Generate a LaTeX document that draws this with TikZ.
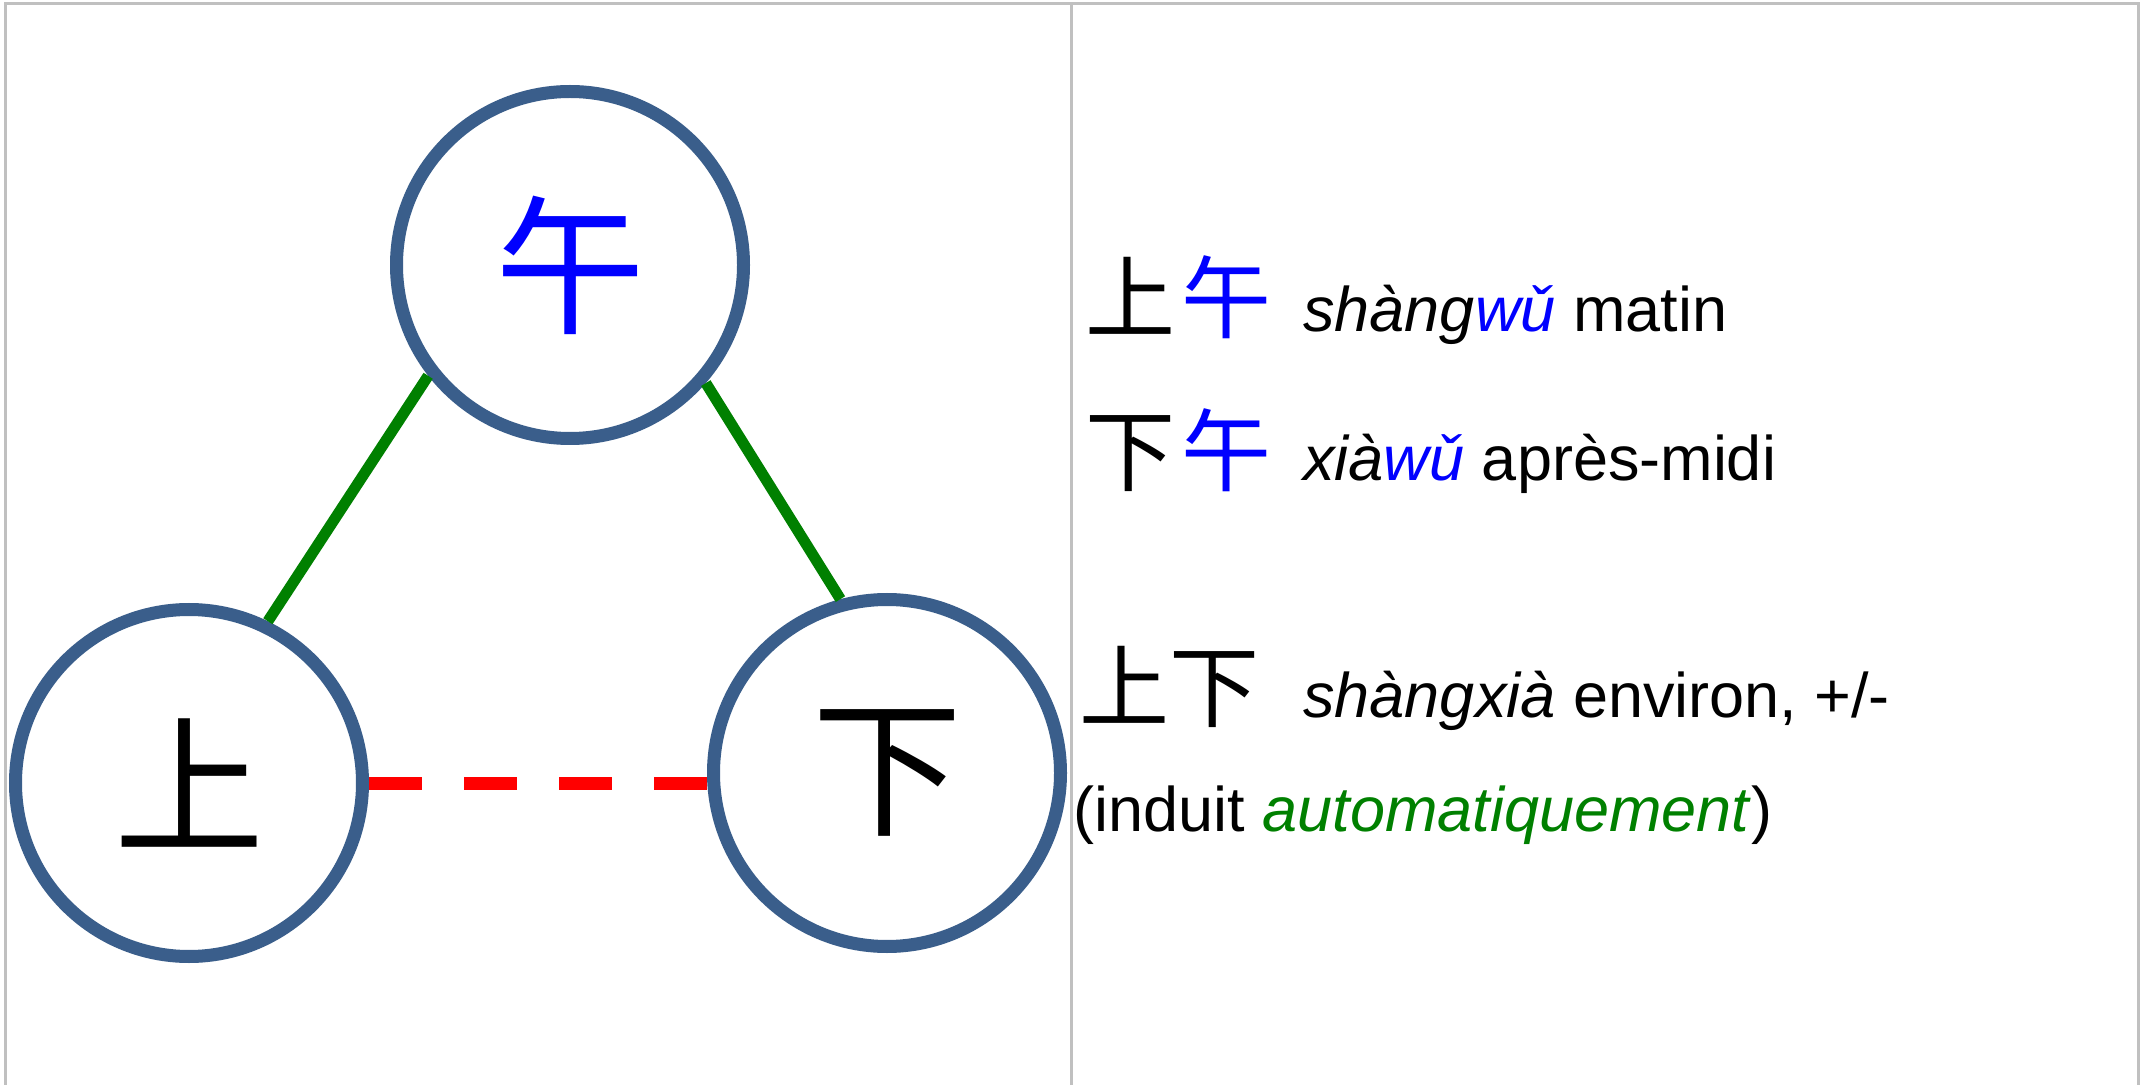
\documentclass[tikz,border=0pt]{standalone}
\usepackage{fontspec}
\setmainfont{Liberation Sans}
\newfontfamily\cjk{Noto Sans CJK SC}
\definecolor{ringblue}{RGB}{58,94,139}
\definecolor{gridgrey}{RGB}{192,192,192}
\definecolor{linkgreen}{RGB}{0,128,0}
\definecolor{dashred}{RGB}{255,0,0}
\definecolor{hanblue}{RGB}{0,0,255}
\tikzset{
  ring/.style={circle, draw=ringblue, fill=white, line width=6.5pt, minimum size=173.5pt, inner sep=0pt, font=\cjk\fontsize{75}{75}\selectfont},
  grid/.style={draw=gridgrey, line width=1.5pt},
  solidlink/.style={draw=linkgreen, line width=5.5pt},
  dashlink/.style={draw=dashred, line width=6.5pt, dash pattern=on 26.5pt off 21pt},
  hanzi/.style={font=\cjk\fontsize{45}{45}\selectfont, inner sep=0pt},
  gloss/.style={font=\fontsize{31.5}{36}\selectfont, inner sep=0pt, anchor=base west}
}
\begin{document}
\begin{tikzpicture}[x=0.5pt,y=-0.5pt]
\useasboundingbox (0,0) rectangle (2143,1085);
% table grid
\draw[grid] (5.5,1085) -- (5.5,4) -- (2138.5,4) -- (2138.5,1085);
\draw[grid] (1071.5,4) -- (1071.5,1085);
% circles
\node[ring] (t) at (570,265) {\textcolor{hanblue}{午}};
\node[ring] (l) at (189,783) {上};
\node[ring] (r) at (887,773) {下};
% connectors
\draw[solidlink] (l.64.8) -- (t.218.3);
\draw[solidlink] (t.319.1) -- (r.105);
\draw[dashlink] (l.east) -- (l.east -| r.west);
% right column
\node[hanzi] (c1) at (1178,297) {上\hspace{3pt}\textcolor{hanblue}{午}};
\node[gloss] (g1) at (1303,332) {\textit{shàng\textcolor{hanblue}{wǔ}} matin};
\node[hanzi] (c2) at (1178,450) {下\hspace{3pt}\textcolor{hanblue}{午}};
\node[gloss] (g2) at (1303,481) {\textit{xià\textcolor{hanblue}{wǔ}} après-midi};
\node[hanzi] (c3) at (1169,687) {上下};
\node[gloss] (g3) at (1303,717.5) {\textit{shàngxià} environ, +/-};
\node[gloss] (g4) at (1073,831) {(induit \textcolor{linkgreen}{\textit{automatiquement}})};
\end{tikzpicture}
\end{document}
